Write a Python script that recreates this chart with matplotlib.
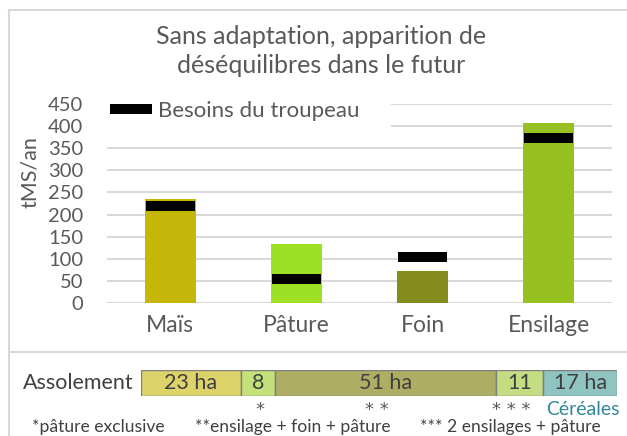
import matplotlib
matplotlib.use('Agg')
import matplotlib.pyplot as plt
from matplotlib.lines import Line2D
from matplotlib.patches import Rectangle
import numpy as np

plt.rcParams['font.family'] = ['Lato', 'DejaVu Sans']

# Production vs herd needs (tMS/an)
categories = ['Maïs', 'Pâture', 'Foin', 'Ensilage']
production = [235, 133, 72, 408]
besoins = [220, 55, 104, 372]
bar_colors = ['#C5B70A', '#9DE024', '#858C1E', '#96C121']

# Crop rotation (ha)
assol_labels = ['23 ha', '8', '51 ha', '11', '17 ha']
assol_ha = [23, 8, 51, 11, 17]
assol_colors = ['#DDD36B', '#C3E07B', '#ADAE63', '#C4DD83', '#8FC4C1']
assol_marks = ['', '*', '* *', '* * *', 'Céréales']
footnotes = ['*pâture exclusive', '**ensilage + foin + pâture', '*** 2 ensilages + pâture']

W, H = 627, 436
GREY = '#595959'


def fx(px):
    return px / W


def fy(py):
    return 1 - py / H


fig = plt.figure(figsize=(W / 100, H / 100), dpi=100)

# --- main bar chart ---
ax = fig.add_axes([fx(107), fy(303), fx(612) - fx(107), fy(104) - fy(303)])
x = np.arange(len(categories))
ax.set_xlim(-0.5, len(categories) - 0.5)
ax.set_ylim(0, 450)
ax.bar(x, production, width=0.405, color=bar_colors, zorder=2)
ax.hlines(besoins, x - 0.195, x + 0.195, colors='black', linewidth=7.2, zorder=3,
          label='Besoins du troupeau')
ax.set_yticks(range(0, 451, 50))
ax.yaxis.grid(True, color='#D9D9D9', linewidth=1.5)
ax.set_axisbelow(True)
for s in ax.spines.values():
    s.set_visible(False)
ax.set_xticks(x, categories)
ax.tick_params(axis='y', length=0, labelsize=14.5, colors=GREY, pad=17)
ax.tick_params(axis='x', length=0, labelsize=16.5, colors=GREY, pad=9)

# white box behind the legend hides the top gridlines
ax.add_patch(Rectangle((fx(107), fy(134)), fx(391) - fx(107), fy(96) - fy(134),
                       transform=fig.transFigure, facecolor='white', edgecolor='none',
                       zorder=1, clip_on=False))
ax.legend(loc='center left', bbox_to_anchor=(fx(110), fy(111)), bbox_transform=fig.transFigure,
          frameon=False, fontsize=16, handlelength=1.9, handletextpad=0.25,
          borderpad=0, borderaxespad=0, labelcolor=GREY)

fig.text(fx(321), fy(51), 'Sans adaptation, apparition de\ndéséquilibres dans le futur',
         ha='center', va='center', fontsize=18, color=GREY, linespacing=1.3)
fig.text(fx(30), fy(172), 'tMS/an', rotation=90, ha='center', va='center',
         fontsize=15.5, color=GREY)

# --- assolement strip ---
ax2 = fig.add_axes([fx(141), fy(396), fx(617) - fx(141), fy(370) - fy(396)])
ax2.set_xlim(0, sum(assol_ha))
ax2.set_ylim(0, 1)
lefts = np.concatenate([[0], np.cumsum(assol_ha)[:-1]])
ax2.barh(0.5, assol_ha, left=lefts, height=1, color=assol_colors,
         edgecolor='#7F7F7F', linewidth=1)
ax2.axis('off')
px_per_ha = (617 - 141) / sum(assol_ha)
mark_shift = [0, 2, -9, -8, 3]  # small horizontal nudges, in pixels
for left, w, lab, mark, dx in zip(lefts, assol_ha, assol_labels, assol_marks, mark_shift):
    ax2.text(left + w / 2, 0.5, lab, ha='center', va='center', fontsize=15.5, color='#404040')
    xm = left + w / 2 + dx / px_per_ha
    if mark == 'Céréales':
        ax2.text(xm, -0.5, mark, ha='center', va='center', fontsize=14,
                 color='#31859C', clip_on=False)
    elif mark:
        ax2.text(xm, -0.2, mark, ha='center', va='top', fontsize=13,
                 color=GREY, clip_on=False, family='DejaVu Sans')

fig.text(fx(134), fy(383), 'Assolement', ha='right', va='center', fontsize=15.5, color='#404040')
for xp, note in zip([32, 195, 420], footnotes):
    fig.text(fx(xp), fy(427), note, ha='left', va='center', fontsize=12.6, color='#404040')

# frame lines
for xs, ys in [([fx(9), fx(9)], [0, fy(10)]),
               ([fx(9), 1], [fy(10), fy(10)]),
               ([fx(9), 1], [fy(352), fy(352)])]:
    fig.add_artist(Line2D(xs, ys, transform=fig.transFigure, color='#D9D9D9', linewidth=1.5))

fig.savefig('out.png', dpi=100)
